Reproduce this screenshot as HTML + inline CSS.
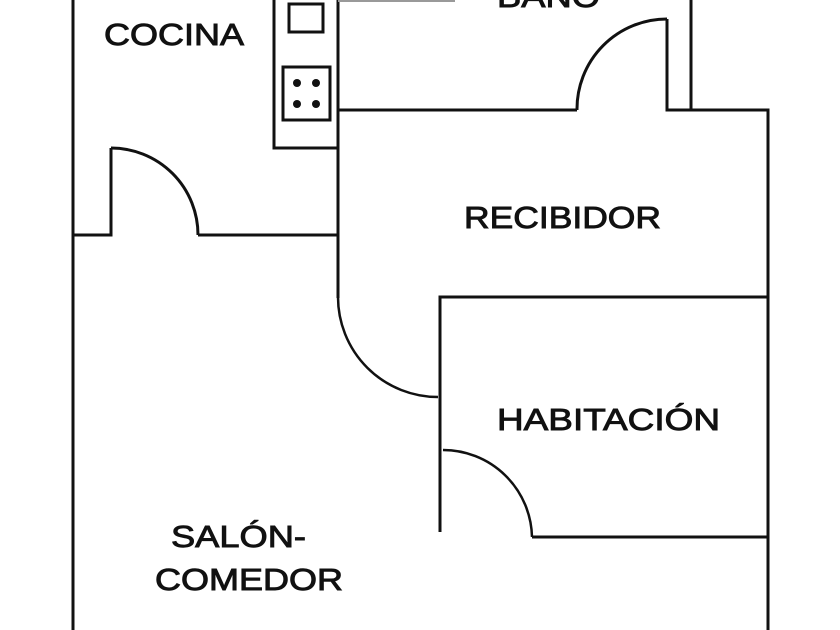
<!DOCTYPE html>
<html><head><meta charset="utf-8"><style>html,body{margin:0;padding:0;background:#fff;}svg{display:block}</style></head>
<body>
<svg width="840" height="630" viewBox="0 0 840 630" xmlns="http://www.w3.org/2000/svg">
<g fill="none" stroke="#111" stroke-width="3">
<line x1="73" y1="0" x2="73" y2="630"/>
<polyline points="73,235 111,235 111,148"/>
<path d="M111,148 A87,87 0 0 1 198,235"/>
<line x1="198" y1="235" x2="338" y2="235"/>
<polyline points="274,0 274,148 338,148"/>
<rect x="289" y="4" width="34" height="28"/>
<rect x="283" y="67" width="47" height="53"/>
<line x1="338" y1="0" x2="338" y2="298"/>
<line x1="338" y1="110" x2="577" y2="110"/>
<path d="M577,110 A90,90 0 0 1 667,19"/>
<polyline points="667,19 667,110 768,110 768,630"/>
<line x1="691" y1="0" x2="691" y2="110"/>
<polyline points="768,297 440,297 440,532"/>
<path d="M338,297 A100,100 0 0 0 438,397" stroke-width="2.5"/>
<path d="M443,450 A89,89 0 0 1 532,537" stroke-width="2.5"/>
<line x1="532" y1="537" x2="768" y2="537"/>
</g>
<line x1="338" y1="1" x2="455" y2="1" stroke="#999" stroke-width="2"/>
<g fill="#111">
<circle cx="297" cy="83" r="4"/><circle cx="316" cy="83" r="4"/>
<circle cx="297" cy="104" r="4"/><circle cx="316" cy="104" r="4"/>
</g>
<g font-family="Liberation Sans, sans-serif" font-size="31" fill="#111" stroke="#111" stroke-width="0.9">
<text x="104" y="45" textLength="140" lengthAdjust="spacingAndGlyphs">COCINA</text>
<text x="497" y="7" textLength="103" lengthAdjust="spacingAndGlyphs">BAÑO</text>
<text x="464" y="228" textLength="197" lengthAdjust="spacingAndGlyphs">RECIBIDOR</text>
<text x="497" y="430" textLength="223" lengthAdjust="spacingAndGlyphs">HABITACIÓN</text>
<text x="171" y="547" textLength="135" lengthAdjust="spacingAndGlyphs">SALÓN-</text>
<text x="155" y="590" textLength="188" lengthAdjust="spacingAndGlyphs">COMEDOR</text>
</g>
</svg>
</body></html>
